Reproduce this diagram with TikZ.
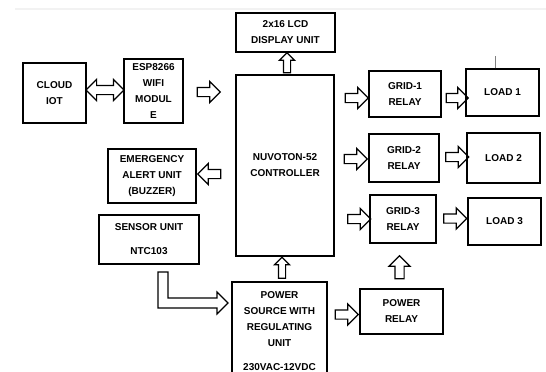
\documentclass[tikz,border=0pt]{standalone}
\usepackage{fontspec}
\setmainfont{Liberation Sans}
\usetikzlibrary{shapes.arrows}

\begin{document}
\begin{tikzpicture}
[
    x=1pt, y=-1pt,
    blk/.style={draw, line width=1.4pt, align=center, inner sep=1pt,
        font=\fontsize{10}{16}\selectfont\bfseries},
    rarr/.style={single arrow, draw, line width=1.2pt, inner xsep=0pt, inner ysep=4pt,
        single arrow head extend=6pt, minimum height=23pt},
    uarr/.style={rarr, rotate=90},
    larr/.style={rarr, rotate=180},
    darr/.style={double arrow, draw, line width=1.2pt, inner xsep=0pt, inner ysep=4pt,
        double arrow head extend=6pt, minimum height=38pt},
]
\useasboundingbox (0,0) rectangle (546,372);
\clip (0,0) rectangle (546,372);
\draw[gray!10, line width=2pt] (15,9) -- (546,9);

% blocks
\node[blk, minimum width=63pt, minimum height=60pt] (cloud) at (54.5,93) {CLOUD\\IOT};
\node[blk, minimum width=59pt, minimum height=64pt] (esp) at (153.5,91) {ESP8266\\WIFI\\MODUL\\E};
\node[blk, minimum width=99pt, minimum height=39pt] (lcd) at (285.5,32.5) {2x16 LCD\\DISPLAY UNIT};
\node[blk, minimum width=98pt, minimum height=181pt] (ctrl) at (285,165.5) {NUVOTON-52\\CONTROLLER};
\node[blk, minimum width=88pt, minimum height=54pt] (alert) at (152,176) {EMERGENCY\\ALERT UNIT\\(BUZZER)};
\node[blk, minimum width=100pt, minimum height=49pt] (sensor) at (149,239.5) {SENSOR UNIT\\[8pt]NTC103};
\node[blk, minimum width=95pt, minimum height=98pt] (psu) at (279.5,331) {POWER\\SOURCE WITH\\REGULATING\\UNIT\\[8pt]230VAC-12VDC};
\node[blk, minimum width=72pt, minimum height=46pt] (grid1) at (405,94) {GRID-1\\RELAY};
\node[blk, minimum width=70pt, minimum height=48pt] (grid2) at (404,158) {GRID-2\\RELAY};
\node[blk, minimum width=66pt, minimum height=48pt] (grid3) at (403,219) {GRID-3\\RELAY};
\node[blk, minimum width=73pt, minimum height=47pt] (load1) at (502.5,92.5) {LOAD 1};
\node[blk, minimum width=73pt, minimum height=50pt] (load2) at (503.5,158) {LOAD 2};
\node[blk, minimum width=73pt, minimum height=47pt] (load3) at (504.5,221.5) {LOAD 3};
\node[blk, minimum width=83pt, minimum height=45pt] (prelay) at (401.5,311.5) {POWER\\RELAY};
\draw[gray, line width=0.6pt] (load1.north) ++(-7,0) coordinate (tick) -- ++(0,-12);

% hollow arrows
\node[darr] (cloud-esp) at (105,90) {};
\node[rarr] (esp-ctrl) at (206.5,92) {};
\node[uarr, inner ysep=3pt, single arrow head extend=4pt, minimum height=20pt] (ctrl-lcd) at (287,64.5) {};
\node[larr] (ctrl-alert) at (211.5,174) {};
\node[uarr, inner ysep=3pt, single arrow head extend=4pt, minimum height=21pt] (psu-ctrl) at (282,269.5) {};
\node[rarr] (ctrl-grid1) at (354.5,98) {};
\node[rarr, minimum height=22pt] (grid1-load1) at (455,98) {};
\node[rarr] (ctrl-grid2) at (353.5,159) {};
\node[rarr] (grid2-load2) at (455,157) {};
\node[rarr] (ctrl-grid3) at (357,219) {};
\node[rarr] (grid3-load3) at (453,218.5) {};
\node[rarr] (psu-prelay) at (344.5,314.5) {};
\node[uarr] (prelay-grid3) at (399.5,269.5) {};

% bent arrow sensor -> power source
\draw[line width=1.2pt, line join=miter]
    (158,272) -- (168,272) -- (168,298) -- (217,298) -- (217,292) -- (228,303)
    -- (217,314) -- (217,308) -- (158,308) -- cycle;
\end{tikzpicture}
\end{document}
